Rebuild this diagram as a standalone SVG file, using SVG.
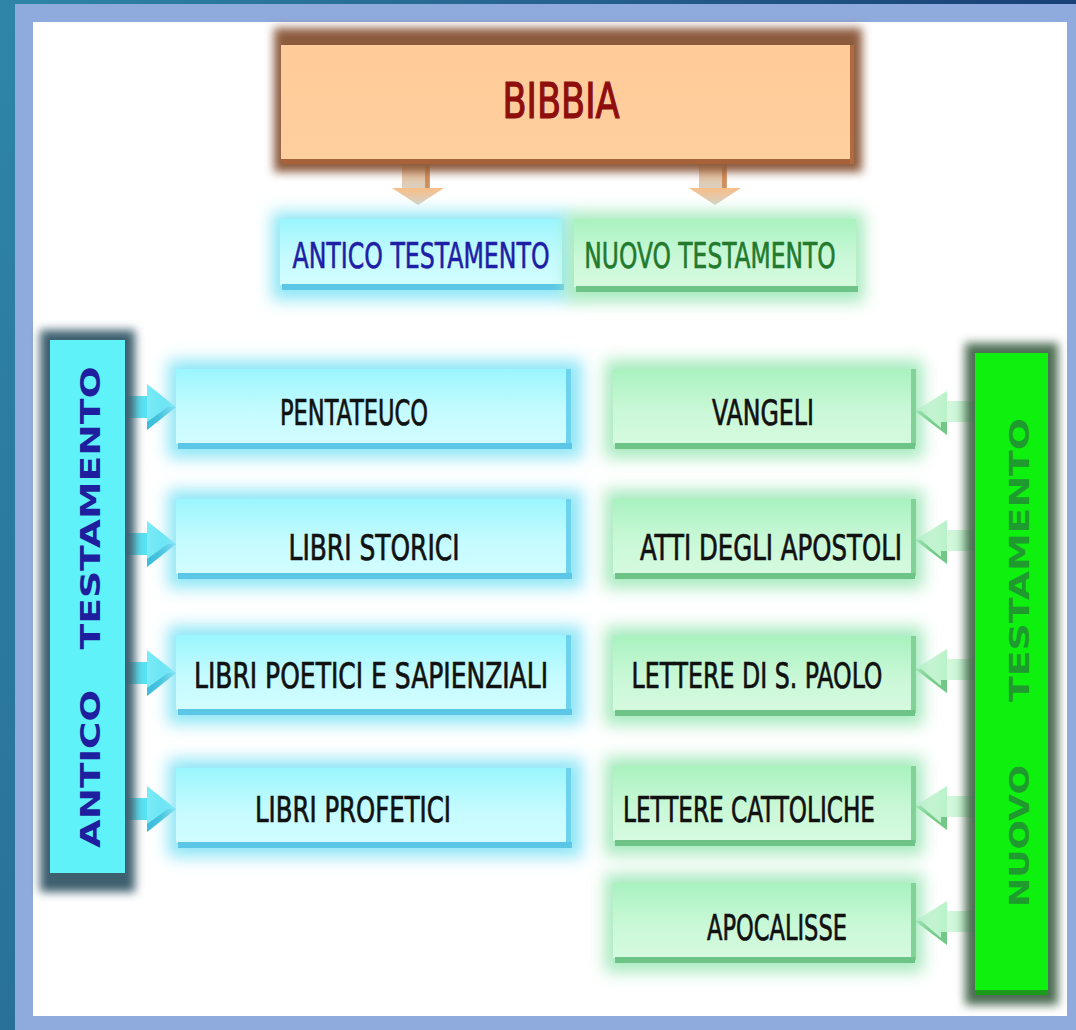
<svg xmlns="http://www.w3.org/2000/svg" width="1076" height="1030" viewBox="0 0 1076 1030">
<defs>
  <linearGradient id="bg" x1="0" y1="0" x2="1" y2="0.3">
    <stop offset="0" stop-color="#2E86A6"/>
    <stop offset="0.5" stop-color="#25608E"/>
    <stop offset="1" stop-color="#163A72"/>
  </linearGradient>
  <linearGradient id="peach" x1="0" y1="0" x2="0" y2="1">
    <stop offset="0" stop-color="#FFCB98"/>
    <stop offset="1" stop-color="#FFCF9E"/>
  </linearGradient>
  <linearGradient id="cyanBox" x1="0" y1="0" x2="0" y2="1">
    <stop offset="0" stop-color="#9AF6FD"/>
    <stop offset="0.55" stop-color="#C4FBFF"/>
    <stop offset="1" stop-color="#D2FDFF"/>
  </linearGradient>
  <linearGradient id="greenBox" x1="0" y1="0" x2="0" y2="1">
    <stop offset="0" stop-color="#A9F2BF"/>
    <stop offset="0.55" stop-color="#C9F8D7"/>
    <stop offset="1" stop-color="#D6FADF"/>
  </linearGradient>
  <linearGradient id="orangeArrow" x1="0" y1="0" x2="0" y2="1">
    <stop offset="0" stop-color="#F8BE88"/>
    <stop offset="1" stop-color="#D8D0C4"/>
  </linearGradient>
  <linearGradient id="cyanArrow" x1="0" y1="0" x2="1" y2="0">
    <stop offset="0" stop-color="#7EEAF6"/>
    <stop offset="1" stop-color="#4EE2F4"/>
  </linearGradient>
  <linearGradient id="greenArrow" x1="1" y1="0" x2="0" y2="0">
    <stop offset="0" stop-color="#B8F2C8"/>
    <stop offset="1" stop-color="#D8F8E0"/>
  </linearGradient>
  <filter id="blur8" x="-20%" y="-20%" width="140%" height="140%">
    <feGaussianBlur stdDeviation="8"/>
  </filter>
  <filter id="blur5" x="-20%" y="-20%" width="140%" height="140%">
    <feGaussianBlur stdDeviation="5"/>
  </filter>
</defs>
<style>
  .lbl { font-family: "DejaVu Sans Condensed", "DejaVu Sans", sans-serif; font-stretch: condensed; font-size: 36px; fill: #111111; stroke: #111111; stroke-width: 0.7px; text-anchor: middle; }
  .top { font-family: "DejaVu Sans Condensed", "DejaVu Sans", sans-serif; font-stretch: condensed; font-size: 36px; stroke-width: 0.6px; text-anchor: middle; }
  .vt { font-family: "DejaVu Sans", "Liberation Sans", sans-serif; font-weight: bold; font-size: 27px; text-anchor: middle; }
  .cglow { fill: #8EE6F6; }
  .gglow { fill: #A6EABE; }
  .cedgeB { fill: #5CC6E6; }
  .cedgeR { fill: #6CD2EE; }
  .gedgeB { fill: #6EC486; }
  .gedgeR { fill: #82D196; }
  .carrow { fill: url(#cyanArrow); }
  .cshade { fill: #3FBEDC; }
  .garrow { fill: url(#greenArrow); }
  .gshade { fill: #72C886; }
</style>

<rect x="0" y="0" width="1076" height="1030" fill="url(#bg)"/>
<rect x="15" y="4" width="1061" height="1026" fill="#8FAADC"/>
<rect x="33" y="22" width="1034" height="994" fill="#FFFFFF"/>

<g id="connectors">
  <g id="arrow-bibbia-antico">
    <rect x="402" y="160" width="27" height="30" fill="url(#orangeArrow)"/>
    <rect x="425" y="160" width="5" height="30" fill="#C8763A" opacity="0.7"/>
    <polygon points="392,188 444,188 418,205" fill="url(#orangeArrow)"/>
  </g>
  <g id="arrow-bibbia-nuovo">
    <rect x="699" y="160" width="27" height="30" fill="url(#orangeArrow)"/>
    <rect x="722" y="160" width="5" height="30" fill="#C8763A" opacity="0.7"/>
    <polygon points="689,188 741,188 715,205" fill="url(#orangeArrow)"/>
  </g>
  <g id="arrows-antico">
    <g transform="translate(0,407)">
      <rect class="carrow" x="119" y="-11" width="31" height="22"/>
      <polygon class="carrow" points="147,-23 176,0 147,23"/>
      <polygon class="cshade" points="176,0 147,23 147,15 168,0"/>
    </g>
    <g transform="translate(0,544)">
      <rect class="carrow" x="119" y="-11" width="31" height="22"/>
      <polygon class="carrow" points="147,-23 176,0 147,23"/>
      <polygon class="cshade" points="176,0 147,23 147,15 168,0"/>
    </g>
    <g transform="translate(0,673)">
      <rect class="carrow" x="119" y="-11" width="31" height="22"/>
      <polygon class="carrow" points="147,-23 176,0 147,23"/>
      <polygon class="cshade" points="176,0 147,23 147,15 168,0"/>
    </g>
    <g transform="translate(0,809)">
      <rect class="carrow" x="119" y="-11" width="31" height="22"/>
      <polygon class="carrow" points="147,-23 176,0 147,23"/>
      <polygon class="cshade" points="176,0 147,23 147,15 168,0"/>
    </g>
  </g>
  <g id="arrows-nuovo">
    <g transform="translate(0,411)">
      <rect class="garrow" x="944" y="-10" width="32" height="21"/>
      <polygon class="garrow" points="947,-20 915,0 947,24"/>
      <polygon class="gshade" points="915,0 947,24 947,11 941,11 941,17 921,0"/>
    </g>
    <g transform="translate(0,540)">
      <rect class="garrow" x="944" y="-10" width="32" height="21"/>
      <polygon class="garrow" points="947,-20 915,0 947,24"/>
      <polygon class="gshade" points="915,0 947,24 947,11 941,11 941,17 921,0"/>
    </g>
    <g transform="translate(0,669)">
      <rect class="garrow" x="944" y="-10" width="32" height="21"/>
      <polygon class="garrow" points="947,-20 915,0 947,24"/>
      <polygon class="gshade" points="915,0 947,24 947,11 941,11 941,17 921,0"/>
    </g>
    <g transform="translate(0,806)">
      <rect class="garrow" x="944" y="-10" width="32" height="21"/>
      <polygon class="garrow" points="947,-20 915,0 947,24"/>
      <polygon class="gshade" points="915,0 947,24 947,11 941,11 941,17 921,0"/>
    </g>
    <g transform="translate(0,921)">
      <rect class="garrow" x="944" y="-10" width="32" height="21"/>
      <polygon class="garrow" points="947,-20 915,0 947,24"/>
      <polygon class="gshade" points="915,0 947,24 947,11 941,11 941,17 921,0"/>
    </g>
  </g>
</g>

<g id="bibbia">
  <rect x="274" y="28" width="588" height="144" fill="#8C5A3E" filter="url(#blur5)"/>
  <rect x="281" y="45" width="573" height="117" fill="url(#peach)"/>
  <rect x="281" y="159" width="573" height="5" fill="#A8623A"/>
  <rect x="850" y="45" width="4" height="119" fill="#B06A40"/>
  <text x="561" y="118" font-family="DejaVu Sans Condensed, DejaVu Sans, sans-serif" font-stretch="condensed" font-size="50" fill="#8E0E0E" stroke="#8E0E0E" stroke-width="1.2" text-anchor="middle" textLength="117" lengthAdjust="spacingAndGlyphs">BIBBIA</text>
</g>

<g id="antico-testamento">
  <rect class="cglow" x="272" y="212" width="298" height="88" filter="url(#blur8)"/>
  <rect x="280" y="219" width="282" height="66" fill="url(#cyanBox)"/>
  <rect class="cedgeB" x="282" y="284" width="282" height="6"/>
  <text class="top" fill="#1E1EA6" stroke="#1E1EA6" transform="translate(421,268) scale(0.72,1)" textLength="357" lengthAdjust="spacingAndGlyphs">ANTICO TESTAMENTO</text>
</g>

<g id="nuovo-testamento">
  <rect class="gglow" x="566" y="212" width="298" height="90" filter="url(#blur8)"/>
  <rect x="574" y="219" width="282" height="68" fill="url(#greenBox)"/>
  <rect class="gedgeB" x="576" y="286" width="282" height="6"/>
  <text class="top" fill="#237A2E" stroke="#237A2E" transform="translate(710,268) scale(0.72,1)" textLength="349" lengthAdjust="spacingAndGlyphs">NUOVO TESTAMENTO</text>
</g>

<g id="antico-bar">
  <rect x="40" y="330" width="95" height="562" fill="#3E5E6E" filter="url(#blur5)"/>
  <rect x="50" y="340" width="75" height="533" fill="#5FF2F9"/>
  <text class="vt" fill="#1E1E9E" transform="translate(100,769) rotate(-90)" textLength="158" lengthAdjust="spacingAndGlyphs">ANTICO</text>
  <text class="vt" fill="#1E1E9E" transform="translate(100,508) rotate(-90)" textLength="283" lengthAdjust="spacingAndGlyphs">TESTAMENTO</text>
</g>

<g id="nuovo-bar">
  <rect x="965" y="343" width="93" height="662" fill="#4E6E55" filter="url(#blur5)"/>
  <rect x="975" y="353" width="73" height="640" fill="#0EF00E"/>
  <rect x="975" y="990" width="73" height="5" fill="#1C9A1C"/>
  <text class="vt" fill="#1F9A2E" transform="translate(1029,836) rotate(-90)" textLength="142" lengthAdjust="spacingAndGlyphs">NUOVO</text>
  <text class="vt" fill="#1F9A2E" transform="translate(1029,560) rotate(-90)" textLength="284" lengthAdjust="spacingAndGlyphs">TESTAMENTO</text>
</g>

<g id="pentateuco">
  <rect class="cglow" x="168" y="360" width="414" height="98" filter="url(#blur8)"/>
  <rect x="176" y="369" width="394" height="75" fill="url(#cyanBox)"/>
  <rect class="cedgeR" x="566" y="369" width="5" height="77"/>
  <rect class="cedgeB" x="178" y="443" width="394" height="6"/>
  <text class="lbl" x="354" y="425" textLength="148" lengthAdjust="spacingAndGlyphs">PENTATEUCO</text>
</g>
<g id="libri-storici">
  <rect class="cglow" x="168" y="490" width="414" height="98" filter="url(#blur8)"/>
  <rect x="176" y="499" width="394" height="75" fill="url(#cyanBox)"/>
  <rect class="cedgeR" x="566" y="499" width="5" height="77"/>
  <rect class="cedgeB" x="178" y="573" width="394" height="6"/>
  <text class="lbl" x="374" y="560" textLength="171" lengthAdjust="spacingAndGlyphs">LIBRI STORICI</text>
</g>
<g id="libri-poetici">
  <rect class="cglow" x="168" y="626" width="414" height="98" filter="url(#blur8)"/>
  <rect x="176" y="635" width="394" height="75" fill="url(#cyanBox)"/>
  <rect class="cedgeR" x="566" y="635" width="5" height="77"/>
  <rect class="cedgeB" x="178" y="709" width="394" height="6"/>
  <text class="lbl" x="371" y="688" textLength="354" lengthAdjust="spacingAndGlyphs">LIBRI POETICI E SAPIENZIALI</text>
</g>
<g id="libri-profetici">
  <rect class="cglow" x="168" y="759" width="414" height="98" filter="url(#blur8)"/>
  <rect x="176" y="768" width="394" height="75" fill="url(#cyanBox)"/>
  <rect class="cedgeR" x="566" y="768" width="5" height="77"/>
  <rect class="cedgeB" x="178" y="842" width="394" height="6"/>
  <text class="lbl" x="353" y="822" textLength="196" lengthAdjust="spacingAndGlyphs">LIBRI PROFETICI</text>
</g>

<g id="vangeli">
  <rect class="gglow" x="605" y="360" width="318" height="98" filter="url(#blur8)"/>
  <rect x="613" y="369" width="302" height="75" fill="url(#greenBox)"/>
  <rect class="gedgeR" x="911" y="369" width="5" height="77"/>
  <rect class="gedgeB" x="615" y="443" width="300" height="6"/>
  <text class="lbl" x="763" y="425" textLength="102" lengthAdjust="spacingAndGlyphs">VANGELI</text>
</g>
<g id="atti">
  <rect class="gglow" x="605" y="490" width="318" height="98" filter="url(#blur8)"/>
  <rect x="613" y="499" width="302" height="75" fill="url(#greenBox)"/>
  <rect class="gedgeR" x="911" y="499" width="5" height="77"/>
  <rect class="gedgeB" x="615" y="573" width="300" height="6"/>
  <text class="lbl" x="771" y="560" textLength="262" lengthAdjust="spacingAndGlyphs">ATTI DEGLI APOSTOLI</text>
</g>
<g id="lettere-paolo">
  <rect class="gglow" x="605" y="627" width="318" height="98" filter="url(#blur8)"/>
  <rect x="613" y="636" width="302" height="75" fill="url(#greenBox)"/>
  <rect class="gedgeR" x="911" y="636" width="5" height="77"/>
  <rect class="gedgeB" x="615" y="710" width="300" height="6"/>
  <text class="lbl" x="757" y="688" textLength="251" lengthAdjust="spacingAndGlyphs">LETTERE DI S. PAOLO</text>
</g>
<g id="lettere-cattoliche">
  <rect class="gglow" x="605" y="757" width="318" height="98" filter="url(#blur8)"/>
  <rect x="613" y="766" width="302" height="75" fill="url(#greenBox)"/>
  <rect class="gedgeR" x="911" y="766" width="5" height="77"/>
  <rect class="gedgeB" x="615" y="840" width="300" height="6"/>
  <text class="lbl" x="749" y="822" textLength="252" lengthAdjust="spacingAndGlyphs">LETTERE CATTOLICHE</text>
</g>
<g id="apocalisse">
  <rect class="gglow" x="605" y="874" width="318" height="98" filter="url(#blur8)"/>
  <rect x="613" y="883" width="302" height="75" fill="url(#greenBox)"/>
  <rect class="gedgeR" x="911" y="883" width="5" height="77"/>
  <rect class="gedgeB" x="615" y="957" width="300" height="6"/>
  <text class="lbl" x="777" y="940" textLength="140" lengthAdjust="spacingAndGlyphs">APOCALISSE</text>
</g>
</svg>
